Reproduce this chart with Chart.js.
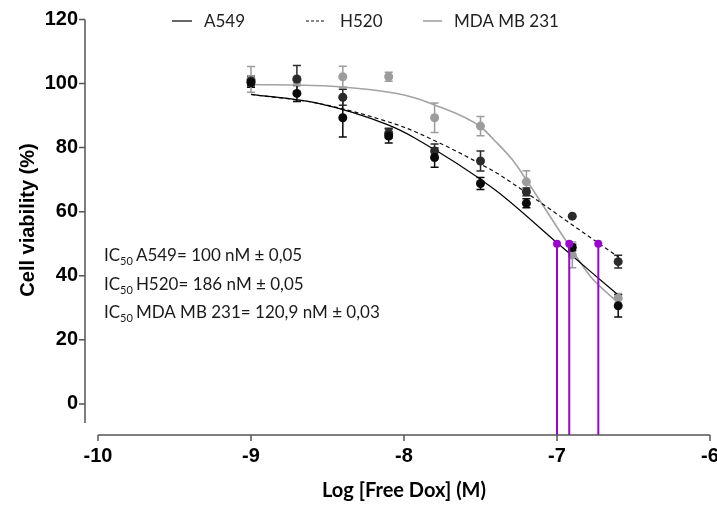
<!DOCTYPE html>
<html>
<head>
<meta charset="utf-8">
<script src="https://cdn.jsdelivr.net/npm/chart.js@4.4.0/dist/chart.umd.min.js"></script>
<style>
html,body{margin:0;padding:0;background:#fff;}
canvas{display:block;}
</style>
</head>
<body>
<canvas id="c" width="717" height="505"></canvas>
<script>
// ---------- DATA ----------
const logDose = [-9, -8.7, -8.4, -8.1, -7.8, -7.5, -7.2, -6.9, -6.6];

const a549Mean = [100.3, 96.9, 89.3, 83.6, 76.9, 68.8, 62.6, 48.8, 30.6];
const a549Err  = [1.5, 2.5, 6.0, 2.2, 3.0, 1.9, 1.4, 1.0, 3.5];
const h520Mean = [100.8, 101.4, 95.7, 84.5, 78.9, 75.8, 66.2, 58.6, 44.4];
const h520Err  = [1.5, 4.2, 2.5, 1.5, 2.2, 3.1, 1.2, 0, 2.0];
const mdaMean  = [101.3, 101.0, 102.1, 102.1, 89.3, 86.7, 69.3, 46.5, 33.0];
const mdaErr   = [4.0, 1.0, 3.3, 1.4, 4.6, 3.0, 3.5, 4.0, 1.5];

// fitted curves
const a549CurveX = [-9, -8.56, -8.1, -7.93, -7.41, -7.0, -6.78, -6.6];
const a549CurveY = [96.6, 93.8, 87.0, 83.0, 67.0, 50.3, 41.3, 34.0];
const h520CurveX = [-9, -8.56, -8.1, -7.93, -7.41, -7.34, -6.73, -6.6];
const h520CurveY = [96.6, 93.8, 88.0, 85.0, 72.5, 70.4, 50.2, 45.9];
const mdaCurveX  = [-9, -8.5, -8.0, -7.8, -7.5, -7.41, -7.29, -7.2, -6.93, -6.78, -6.6];
const mdaCurveY  = [99.7, 99.2, 96.4, 93.3, 86.5, 82.3, 76.1, 69.9, 50.1, 39.7, 31.6];

const ic50Log = [-7.0, -6.92, -6.73];
const ic50Level = 50;

const seriesNames = ['A549', 'H520', 'MDA MB 231'];
const ic50Text = ['= 100 nM \u00b1 0,05', '= 186 nM \u00b1 0,05', '= 120,9 nM \u00b1 0,03'];

const xTicks = [-10, -9, -8, -7, -6];
const yTicks = [0, 20, 40, 60, 80, 100, 120];
const xTitle = 'Log [Free Dox] (M)';
const yTitle = 'Cell viability (%)';

// ---------- STYLE ----------
const yMin = -9.7, yMax = 124.5;
const PURPLE = '#9a06cf';
const AXIS = '#555555';
const tickFont = {family: 'Arial, "Liberation Sans", sans-serif', size: 20, weight: 'bold'};
const textFamily = 'Lato, "Open Sans", sans-serif';

const pts = (xs, ys) => xs.map((x, i) => ({x: x, y: ys[i]}));

const datasets = [
  ...ic50Log.map(v => ({
    type: 'line', label: 'IC50', data: [{x: v, y: ic50Level}, {x: v, y: yMin}],
    borderColor: PURPLE, borderWidth: 2, pointRadius: [4, 0], pointBackgroundColor: PURPLE,
    pointBorderWidth: 0, showLine: true, order: 0, isIC50: true
  })),
  {type: 'scatter', label: seriesNames[0] + ' pts', data: pts(logDose, a549Mean), errors: a549Err,
   backgroundColor: '#0a0a0a', pointRadius: 4.5, pointBorderWidth: 0, errorColor: '#0a0a0a', order: 1},
  {type: 'scatter', label: seriesNames[1] + ' pts', data: pts(logDose, h520Mean), errors: h520Err,
   backgroundColor: '#2b2b2b', pointRadius: 4.5, pointBorderWidth: 0, errorColor: '#2b2b2b', order: 1},
  {type: 'scatter', label: seriesNames[2] + ' pts', data: pts(logDose, mdaMean), errors: mdaErr,
   backgroundColor: '#9c9c9c', pointRadius: 4.5, pointBorderWidth: 0, errorColor: '#9c9c9c', order: 1},
  {type: 'line', label: seriesNames[0], data: pts(a549CurveX, a549CurveY), borderColor: '#000000',
   borderWidth: 1.2, pointRadius: 0, cubicInterpolationMode: 'monotone', fill: false, order: 2, isCurve: true},
  {type: 'line', label: seriesNames[1], data: pts(h520CurveX, h520CurveY), borderColor: '#111111',
   borderWidth: 1.2, borderDash: [4, 3], pointRadius: 0, cubicInterpolationMode: 'monotone', fill: false, order: 2, isCurve: true},
  {type: 'line', label: seriesNames[2], data: pts(mdaCurveX, mdaCurveY), borderColor: '#a3a3a3',
   borderWidth: 1.6, pointRadius: 0, cubicInterpolationMode: 'monotone', fill: false, order: 2, isCurve: true}
];

const errorBars = {
  id: 'errorBars',
  beforeDatasetsDraw(chart) {
    const ctx = chart.ctx, xs = chart.scales.x, ys = chart.scales.y;
    ctx.save();
    chart.data.datasets.forEach(ds => {
      if (!ds.errors) return;
      ctx.strokeStyle = ds.errorColor;
      ctx.lineWidth = 1.5;
      ds.data.forEach((p, i) => {
        const e = ds.errors[i];
        if (!e) return;
        const px = xs.getPixelForValue(p.x);
        const t = ys.getPixelForValue(p.y + e), b = ys.getPixelForValue(p.y - e);
        ctx.beginPath();
        ctx.moveTo(px, t); ctx.lineTo(px, b);
        ctx.moveTo(px - 4, t); ctx.lineTo(px + 4, t);
        ctx.moveTo(px - 4, b); ctx.lineTo(px + 4, b);
        ctx.stroke();
      });
    });
    ctx.restore();
  }
};

const axesPlugin = {
  id: 'axesPlugin',
  afterDraw(chart) {
    const ctx = chart.ctx, xs = chart.scales.x, ys = chart.scales.y, ca = chart.chartArea;
    ctx.save();
    ctx.strokeStyle = AXIS;
    ctx.lineWidth = 1.5;
    const ax = ca.left - 13;
    ctx.beginPath();
    ctx.moveTo(ax, ys.getPixelForValue(yTicks[yTicks.length - 1]));
    ctx.lineTo(ax, ca.bottom - 12);
    yTicks.forEach(v => {
      const py = ys.getPixelForValue(v);
      ctx.moveTo(ax - 6, py); ctx.lineTo(ax, py);
    });
    ctx.stroke();
    const ay = ca.bottom;
    ctx.beginPath();
    ctx.moveTo(xs.getPixelForValue(xTicks[0]), ay);
    ctx.lineTo(xs.getPixelForValue(xTicks[xTicks.length - 1]), ay);
    xTicks.forEach(v => {
      const px = xs.getPixelForValue(v);
      ctx.moveTo(px, ay); ctx.lineTo(px, ay + 6);
    });
    ctx.stroke();
    ctx.restore();
  }
};

const legendPlugin = {
  id: 'customLegend',
  afterDraw(chart) {
    const ctx = chart.ctx;
    const slots = [[172, 192, 204], [306, 326, 340], [423, 442, 454]];
    const curves = chart.data.datasets.filter(d => d.isCurve);
    const y = 21;
    ctx.save();
    ctx.font = '17px ' + textFamily;
    ctx.textBaseline = 'middle';
    ctx.fillStyle = '#222';
    curves.forEach((d, i) => {
      const s = slots[i];
      ctx.strokeStyle = d.borderColor;
      ctx.lineWidth = d.borderWidth;
      ctx.setLineDash(d.borderDash ? [3, 2] : []);
      ctx.beginPath(); ctx.moveTo(s[0], y); ctx.lineTo(s[1], y); ctx.stroke();
      ctx.fillText(d.label, s[2], y + 1);
    });
    ctx.restore();
  }
};

const ic50Plugin = {
  id: 'ic50Text',
  afterDraw(chart) {
    const ctx = chart.ctx;
    const baselines = [261, 290, 318];
    ctx.save();
    ctx.fillStyle = '#1a1a1a';
    ctx.textBaseline = 'alphabetic';
    seriesNames.forEach((name, i) => {
      let x = 104;
      const yb = baselines[i];
      ctx.font = '17px ' + textFamily;
      ctx.fillText('IC', x, yb);
      x += ctx.measureText('IC').width;
      ctx.font = '11px ' + textFamily;
      ctx.fillText('50', x, yb + 4);
      x += ctx.measureText('50').width + 3;
      ctx.font = '17px ' + textFamily;
      ctx.fillText(name + ic50Text[i], x, yb);
    });
    ctx.restore();
  }
};

new Chart(document.getElementById('c'), {
  type: 'scatter',
  data: {datasets: datasets},
  options: {
    responsive: false,
    animation: false,
    devicePixelRatio: 1,
    layout: {padding: {left: 0, right: 7, top: 5, bottom: 0}},
    plugins: {legend: {display: false}, tooltip: {enabled: false}},
    scales: {
      x: {
        type: 'linear', min: xTicks[0], max: xTicks[xTicks.length - 1],
        afterBuildTicks: s => { s.ticks = xTicks.map(v => ({value: v})); },
        afterFit: s => { s.height = 70; s.paddingLeft = 0; s.paddingRight = 0; },
        grid: {display: false, drawTicks: false}, border: {display: false},
        ticks: {padding: 9, font: tickFont, color: '#000', maxRotation: 0, autoSkip: false,
                callback: v => String(v)},
        title: {display: true, text: xTitle, color: '#000',
                font: {family: textFamily, size: 20, weight: 'bold'}, padding: {top: 0, bottom: 2}}
      },
      y: {
        type: 'linear', min: yMin, max: yMax,
        afterBuildTicks: s => { s.ticks = yTicks.map(v => ({value: v})); },
        afterFit: s => { s.width = 98; s.paddingTop = 0; s.paddingBottom = 0; },
        grid: {display: false, drawTicks: false}, border: {display: false},
        ticks: {padding: 20, font: tickFont, color: '#000', autoSkip: false, callback: v => String(v)},
        title: {display: true, text: yTitle, color: '#000',
                font: {family: 'Arial, "Liberation Sans", sans-serif', size: 20, weight: 'bold'},
                padding: {top: 16, bottom: 0}}
      }
    }
  },
  plugins: [errorBars, axesPlugin, legendPlugin, ic50Plugin]
});
</script>
</body>
</html>
